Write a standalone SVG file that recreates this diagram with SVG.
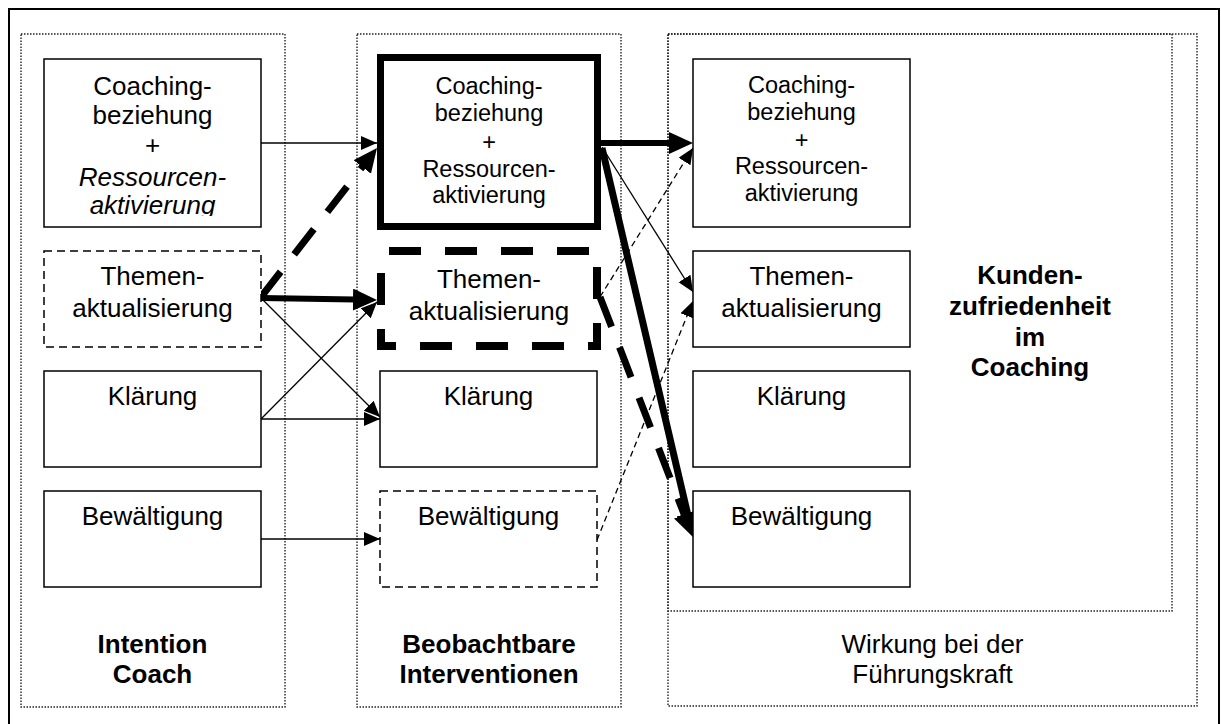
<svg xmlns="http://www.w3.org/2000/svg" width="1221" height="724" viewBox="0 0 1221 724">
<style>
  text { font-family: "Liberation Sans", Arial, sans-serif; fill: #000; text-anchor: middle; }
  .t26 { font-size: 26px; }
  .t23 { font-size: 23.5px; }
  .b { font-weight: bold; }
  .it { font-style: italic; }
  .frame { fill: none; stroke: #000; stroke-width: 2; }
  .dot { fill: none; stroke: #222; stroke-width: 1.4; stroke-dasharray: 1.5 1.5; }
  .box { fill: #fff; stroke: #000; stroke-width: 1.5; }
  .dbox { fill: #fff; stroke: #000; stroke-width: 1.5; stroke-dasharray: 8 5; }
  .tbox { fill: #fff; stroke: #000; stroke-width: 7; }
  .tdbox { fill: #fff; stroke: #000; stroke-width: 8; stroke-dasharray: 32 24; }
  .thin { fill: none; stroke: #000; stroke-width: 1.3; marker-end: url(#ah-thin); }
  .thind { fill: none; stroke: #000; stroke-width: 1.3; stroke-dasharray: 6 4; marker-end: url(#ah-thin); }
  .thick { fill: none; stroke: #000; stroke-width: 6; marker-end: url(#ah-thick); }
  .thickd { fill: none; stroke: #000; stroke-width: 7; stroke-dasharray: 32 22; marker-end: url(#ah-thick); }
</style>
<defs>
  <marker id="ah-thin" markerUnits="userSpaceOnUse" markerWidth="17" markerHeight="15" refX="16" refY="7" orient="auto" viewBox="0 0 17 15">
    <path d="M0,0 L16,7 L0,14 z" fill="#000"/>
  </marker>
  <marker id="ah-thick" markerUnits="userSpaceOnUse" markerWidth="25" markerHeight="23" refX="2" refY="11" orient="auto" viewBox="0 0 25 23">
    <path d="M0,0 L24,11 L0,22 z" fill="#000"/>
  </marker>
  <clipPath id="clip1">
    <rect x="44" y="59" width="217" height="157"/>
  </clipPath>
</defs>
<rect width="1221" height="724" fill="#fff"/>
<rect class="frame" x="9" y="9" width="1210" height="730"/>

<g id="columns">
  <rect class="dot" x="21" y="34" width="264" height="673"/>
  <rect class="dot" x="357" y="34" width="264" height="673"/>
  <rect class="dot" x="668" y="34" width="529" height="672"/>
  <rect class="dot" x="668" y="34" width="504" height="577"/>
</g>

<g id="connectors">
  <path class="thin" d="M261,143 L377,143"/>
  <path class="thickd" d="M261,297 L363.5,165.4"/>
  <path class="thick" d="M261,298 L355,299.6"/>
  <path class="thin" d="M261,298 L380,417"/>
  <path class="thin" d="M261,419 L377,302"/>
  <path class="thin" d="M261,419 L380,419"/>
  <path class="thin" d="M261,539 L380,539"/>
  <path class="thick" d="M601,143 L671,143"/>
  <path class="thin" d="M602,147 L693,292"/>
  <path class="thickd" d="M600,297 L685,516.5"/>
  <path class="thick" style="stroke-width:7" d="M602,148 L688,515.6"/>
  <path class="thind" d="M597,540 L693,301"/>
  <path class="thind" d="M600,297 L693,148"/>
</g>

<g id="col1-coaching">
  <rect class="box" x="44" y="59" width="217" height="168"/>
  <text class="t26" x="152.5" y="95">Coaching-</text>
  <text class="t26" x="152.5" y="123.5">beziehung</text>
  <text class="t26" x="152.5" y="154">+</text>
  <text class="t26 it" x="152.5" y="185.5">Ressourcen-</text>
  <text class="t26 it" x="152.5" y="213.5" clip-path="url(#clip1)">aktivierung</text>
</g>
<g id="col1-themen">
  <rect class="dbox" x="44" y="251" width="217" height="96"/>
  <text class="t26" x="152.5" y="285">Themen-</text>
  <text class="t26" x="152.5" y="317">aktualisierung</text>
</g>
<g id="col1-klaerung">
  <rect class="box" x="44" y="371" width="217" height="96"/>
  <text class="t26" x="152.5" y="405">Klärung</text>
</g>
<g id="col1-bewaeltigung">
  <rect class="box" x="44" y="491" width="217" height="96"/>
  <text class="t26" x="152.5" y="525">Bewältigung</text>
</g>
<g id="col1-label">
  <text class="t26 b" x="152.5" y="652.5">Intention</text>
  <text class="t26 b" x="152.5" y="682.5">Coach</text>
</g>

<g id="col2-coaching">
  <rect class="tbox" x="380.5" y="57.5" width="217" height="169"/>
  <text class="t23" x="489" y="94">Coaching-</text>
  <text class="t23" x="489" y="120.5">beziehung</text>
  <text class="t23" x="489" y="149.5">+</text>
  <text class="t23" x="489" y="176.5">Ressourcen-</text>
  <text class="t23" x="489" y="203">aktivierung</text>
</g>
<g id="col2-themen">
  <rect class="tdbox" x="381" y="251" width="216" height="95" stroke-dashoffset="-8"/>
  <text class="t26" x="489" y="288">Themen-</text>
  <text class="t26" x="489" y="320">aktualisierung</text>
</g>
<g id="col2-klaerung">
  <rect class="box" x="380" y="371" width="217" height="96"/>
  <text class="t26" x="488.5" y="405">Klärung</text>
</g>
<g id="col2-bewaeltigung">
  <rect class="dbox" x="380" y="491" width="217" height="96"/>
  <text class="t26" x="488.5" y="525">Bewältigung</text>
</g>
<g id="col2-label">
  <text class="t26 b" x="489" y="652.5">Beobachtbare</text>
  <text class="t26 b" x="489" y="682.5">Interventionen</text>
</g>

<g id="col3-coaching">
  <rect class="box" x="693" y="59" width="217" height="168"/>
  <text class="t23" x="801.5" y="93">Coaching-</text>
  <text class="t23" x="801.5" y="120">beziehung</text>
  <text class="t23" x="801.5" y="147.5">+</text>
  <text class="t23" x="801.5" y="174">Ressourcen-</text>
  <text class="t23" x="801.5" y="201">aktivierung</text>
</g>
<g id="col3-themen">
  <rect class="box" x="693" y="251" width="217" height="96"/>
  <text class="t26" x="801.5" y="285">Themen-</text>
  <text class="t26" x="801.5" y="317">aktualisierung</text>
</g>
<g id="col3-klaerung">
  <rect class="box" x="693" y="371" width="217" height="96"/>
  <text class="t26" x="801.5" y="405">Klärung</text>
</g>
<g id="col3-bewaeltigung">
  <rect class="box" x="693" y="491" width="217" height="96"/>
  <text class="t26" x="801.5" y="525">Bewältigung</text>
</g>
<g id="col3-kunden">
  <text class="t26 b" x="1030" y="284">Kunden-</text>
  <text class="t26 b" x="1030" y="315">zufriedenheit</text>
  <text class="t26 b" x="1030" y="345.5">im</text>
  <text class="t26 b" x="1030" y="376">Coaching</text>
</g>
<g id="col3-label">
  <text class="t26" x="932.5" y="652.5">Wirkung bei der</text>
  <text class="t26" x="932.5" y="682.5">Führungskraft</text>
</g>
</svg>
